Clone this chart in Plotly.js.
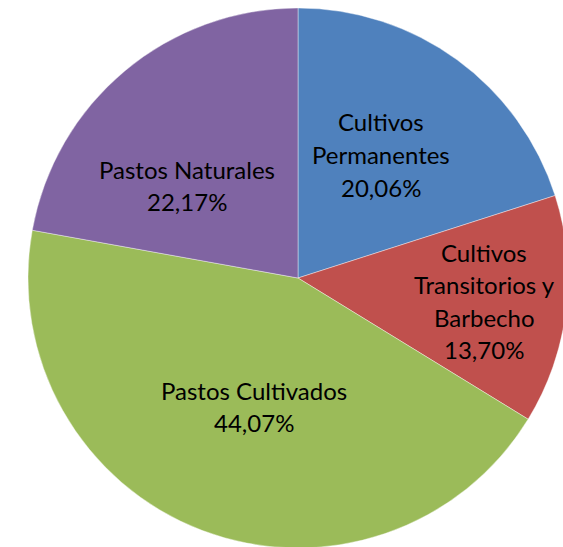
<!DOCTYPE html>
<html>
<head>
<meta charset="utf-8">
<script src="https://cdn.plot.ly/plotly-3.0.1.min.js"></script>
<style>
html, body { margin: 0; padding: 0; overflow: hidden; background: #fff; width: 563px; height: 547px; }
#chart { width: 596px; height: 556px; }
</style>
</head>
<body>
<div id="chart"></div>
<script>
// Data
const categories = ["Cultivos Permanentes", "Cultivos Transitorios y Barbecho", "Pastos Cultivados", "Pastos Naturales"];
const values = [20.06, 13.70, 44.07, 22.17];
const colors = ["#4F81BD", "#C0504D", "#9BBB59", "#8064A2"];
// Label lines (as wrapped in the original)
const labelLines = [
  ["Cultivos", "Permanentes"],
  ["Cultivos", "Transitorios y", "Barbecho"],
  ["Pastos Cultivados"],
  ["Pastos Naturales"]
];

const W = 596, H = 556;
const cx = 298, cy = 278, R = 270;
// Label block anchor (pixel) positions: centre x, first line y
const labelPos = [
  [381, 122],
  [484, 252],
  [254, 390],
  [187, 169]
];
const lineStep = 32.5;
const fontFamily = "Lato, 'Open Sans', 'Liberation Sans', sans-serif";

function fmt(v) { return v.toFixed(2).replace('.', ',') + '%'; }

const annotations = [];
categories.forEach((c, i) => {
  const lines = labelLines[i].concat([fmt(values[i])]);
  lines.forEach((t, j) => {
    annotations.push({
      xref: 'paper', yref: 'paper',
      x: labelPos[i][0] / W,
      y: 1 - (labelPos[i][1] + j * lineStep) / H,
      xanchor: 'center', yanchor: 'middle',
      text: t, showarrow: false,
      font: { family: fontFamily, size: 24, color: '#000' }
    });
  });
});

const trace = {
  type: 'pie',
  labels: categories,
  values: values,
  sort: false,
  direction: 'clockwise',
  rotation: 0,
  textinfo: 'none',
  hoverinfo: 'label+percent',
  marker: { colors: colors, line: { color: 'rgba(255,255,255,0.5)', width: 0.8 } },
  domain: { x: [(cx - R) / W, (cx + R) / W], y: [1 - (cy + R) / H, 1 - (cy - R) / H] },
  showlegend: false
};

Plotly.newPlot('chart', [trace], {
  width: W, height: H,
  margin: { l: 0, r: 0, t: 0, b: 0 },
  paper_bgcolor: '#fff',
  showlegend: false,
  annotations: annotations
}, { displayModeBar: false, staticPlot: true });
</script>
</body>
</html>
